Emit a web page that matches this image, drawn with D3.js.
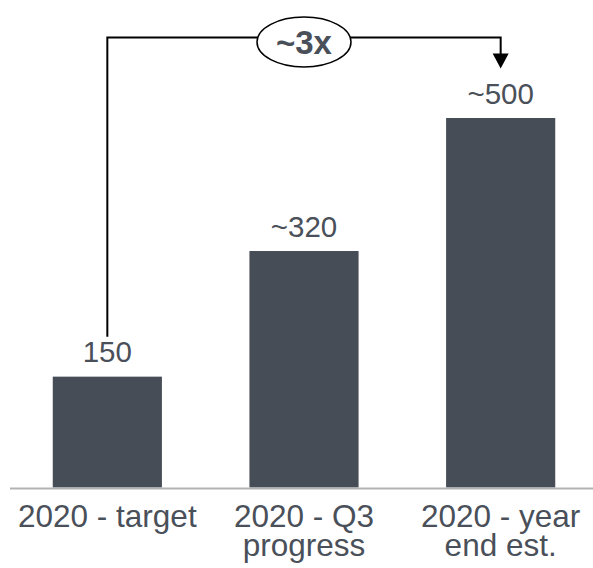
<!DOCTYPE html>
<html>
<head>
<meta charset="utf-8">
<script src="https://cdn.jsdelivr.net/npm/d3@7"></script>
<style>
  html, body { margin: 0; padding: 0; background: #ffffff; }
  svg { display: block; font-family: "Liberation Sans", Arial, sans-serif; }
</style>
</head>
<body>
<svg id="chart" width="593" height="568"></svg>
<script>
// Chart data
const categories = ["2020 - target", "2020 - Q3 progress", "2020 - year end est."];
const categoryLines = [["2020 - target"], ["2020 - Q3", "progress"], ["2020 - year", "end est."]];
const values = [150, 320, 500];
const valueLabels = ["150", "~320", "~500"];
const growthLabel = "~3x";

const W = 593, H = 568;
const barColor = "#464d56";
const textColor = "#4a5059";

const svg = d3.select("#chart");

const x = d3.scaleBand()
  .domain(categories)
  .range([9, 599])
  .paddingInner(0.445)
  .paddingOuter(0.2225);

const y = d3.scaleLinear()
  .domain([0, 500])
  .range([487.5, 118]);

// Bars
svg.append("g")
  .selectAll("rect")
  .data(values)
  .join("rect")
  .attr("x", (d, i) => x(categories[i]))
  .attr("y", d => y(d))
  .attr("width", x.bandwidth())
  .attr("height", d => y(0) - y(d))
  .attr("fill", barColor);

// Baseline
svg.append("line")
  .attr("x1", 10).attr("x2", W)
  .attr("y1", y(0) + 1).attr("y2", y(0) + 1)
  .attr("stroke", "#b3b3b3")
  .attr("stroke-width", 2);

// Value labels
svg.append("g")
  .selectAll("text")
  .data(values)
  .join("text")
  .attr("x", (d, i) => x(categories[i]) + x.bandwidth() / 2)
  .attr("y", d => y(d) - 14.5)
  .attr("text-anchor", "middle")
  .attr("font-size", 29.5)
  .attr("fill", textColor)
  .text((d, i) => valueLabels[i]);

// Category labels, one text per line
const catLines = [];
categoryLines.forEach((lines, i) => lines.forEach((t, j) => catLines.push({ c: categories[i], t, j })));
svg.append("g")
  .selectAll("text")
  .data(catLines)
  .join("text")
  .attr("x", d => x(d.c) + x.bandwidth() / 2)
  .attr("y", d => 527 + d.j * 29)
  .attr("text-anchor", "middle")
  .attr("font-size", 31.5)
  .attr("fill", textColor)
  .text(d => d.t);

// Growth bracket from first bar to last bar
const xFirst = x(categories[0]) + x.bandwidth() / 2;
const xLast = x(categories[2]) + x.bandwidth() / 2;
const bracketY = 37.5;
svg.append("path")
  .attr("d", `M${xFirst},${y(values[0]) - 40} V${bracketY} H${xLast} V${bracketY + 17}`)
  .attr("fill", "none")
  .attr("stroke", "#000")
  .attr("stroke-width", 2);
svg.append("path")
  .attr("d", `M${xLast - 8},${bracketY + 16} L${xLast + 8},${bracketY + 16} L${xLast},${bracketY + 31} Z`)
  .attr("fill", "#000");

const cx = (x(categories[1]) + x.bandwidth() / 2);
svg.append("ellipse")
  .attr("cx", cx).attr("cy", 42)
  .attr("rx", 47).attr("ry", 25)
  .attr("fill", "#fff")
  .attr("stroke", "#000")
  .attr("stroke-width", 1.5);
svg.append("text")
  .attr("x", cx).attr("y", 54)
  .attr("text-anchor", "middle")
  .attr("font-size", 33)
  .attr("font-weight", "bold")
  .attr("fill", textColor)
  .text(growthLabel);
</script>
</body>
</html>
